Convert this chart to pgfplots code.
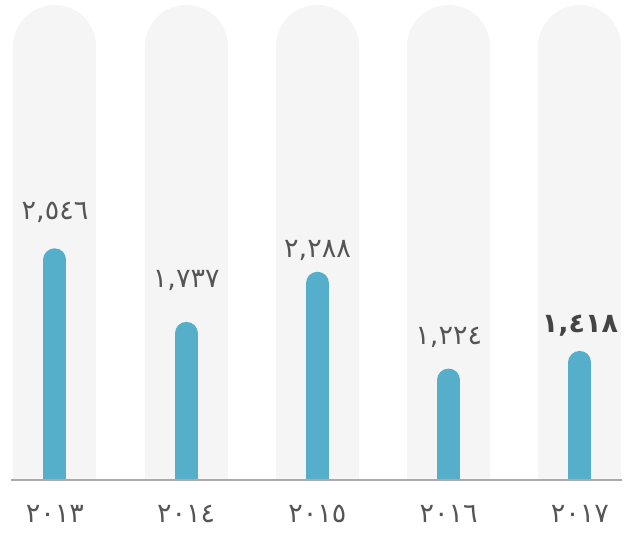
\documentclass[border=0pt]{standalone}
\usepackage{fontspec}
\usepackage{pgfplots}
\pgfplotsset{compat=1.18}
\usepackage{pgfplotstable}
\newfontfamily\arabicfont[Script=Arabic]{DejaVu Sans}
\definecolor{pill}{HTML}{F5F5F5}
\definecolor{barc}{HTML}{55AFCA}
\definecolor{txt}{HTML}{555555}
\definecolor{base}{HTML}{AAAAAA}

\pgfplotstableread{
x v
0 2546
1 1737
2 2288
3 1224
4 1418
}\values

\pgfplotstableread{
x ly lab
0 2868 ٢,٥٤٦
1 2110 ١,٧٣٧
2 2440 ٢,٢٨٨
3 1484 ١,٢٢٤
}\labels

\begin{document}
\begin{tikzpicture}
\useasboundingbox (-11pt,-54pt) rectangle (619pt,480pt);
\begin{axis}[
  at={(0,0)}, anchor=south west,
  scale only axis, width=611pt, height=480pt,
  xmin=-0.335, xmax=4.32, ymin=0, ymax=5275,
  axis x line*=bottom, axis y line=none,
  x axis line style={draw=base, line width=1.3pt},
  axis on top,
  xtick={0,1,2,3,4},
  xticklabels={٢٠١٣,٢٠١٤,٢٠١٥,٢٠١٦,٢٠١٧},
  xtick style={draw=none},
  ytick=\empty,
  xticklabel style={font=\arabicfont\fontsize{27}{31}\selectfont, text=txt, anchor=base, yshift=-43pt},
]
% background pills
\addplot[ycomb, draw=pill, line width=83pt, line cap=round, no markers]
  coordinates {(0,4764) (1,4764) (2,4764) (3,4764) (4,4764)};
% bars
\addplot[ycomb, draw=barc, line width=23pt, line cap=round, no markers]
  table[x=x, y expr=\thisrow{v}-126] {\values};
% value labels
\addplot[draw=none, no markers, nodes near coords, point meta=explicit symbolic,
  every node near coord/.style={anchor=base, inner sep=0pt, text=txt, font=\arabicfont\fontsize{27}{31}\selectfont}]
  table[x=x, y=ly, meta=lab] {\labels};
\addplot[draw=none, no markers, nodes near coords, point meta=explicit symbolic,
  every node near coord/.style={anchor=base, inner sep=0pt, text=txt!80!black, font=\arabicfont\bfseries\fontsize{27}{31}\selectfont}]
  coordinates {(4,1626) [١,٤١٨]};
\end{axis}
\end{tikzpicture}
\end{document}
